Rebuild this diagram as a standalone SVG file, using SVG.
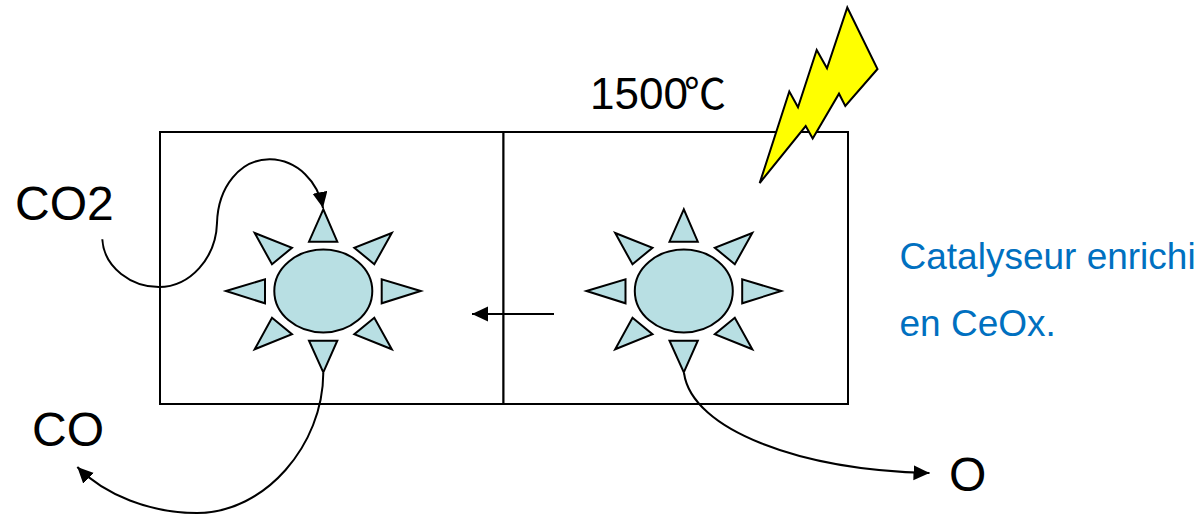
<svg xmlns="http://www.w3.org/2000/svg" width="1202" height="514" viewBox="0 0 1202 514">
<style>
.box{fill:#fff;stroke:#000;stroke-width:2}
.p{fill:#b8dfe3;stroke:#000;stroke-width:2;stroke-linejoin:miter}
.c{fill:none;stroke:#000;stroke-width:2}
text{font-family:"Liberation Sans","Noto Sans CJK SC",sans-serif;fill:#000;font-size:48px}
.t{font-size:44px}
.b{fill:#0070c0;font-size:37px}
</style>
<defs>
<marker id="a" markerUnits="userSpaceOnUse" markerWidth="18" markerHeight="16" refX="16" refY="7.500" orient="auto"><path d="M0 0L16 7.500L0 15Z" fill="#000"/></marker>
<g id="sun">
<polygon class="p" points="323.3,209.300 309,241.7 337.300,241.700"/>
<polygon class="p" points="254.700,233 292,247.7 272,264.3"/>
<polygon class="p" points="391.800,233 354.3,247.7 374.3,264.3"/>
<polygon class="p" points="226,291 265,279.3 265,303.3"/>
<polygon class="p" points="420.700,291 381.7,279.3 381.7,303.3"/>
<polygon class="p" points="254.700,349.300 292,334.3 272,317.7"/>
<polygon class="p" points="391.800,349.300 354.3,334.3 374.3,317.7"/>
<polygon class="p" points="323.3,372.300 309,340.7 337.3,340.7"/>
<ellipse class="p" cx="323.3" cy="291" rx="49" ry="41.5"/>
</g>
</defs>
<g id="box-left"><rect class="box" x="160" y="132" width="343.500" height="272"/></g>
<g id="box-right"><rect class="box" x="503.500" y="132" width="344.500" height="272"/></g>
<g id="sun-left"><use href="#sun"/></g>
<g id="sun-right"><use href="#sun" x="360.500"/></g>
<g id="bolt"><polygon points="847.3,7.500 877.500,69 845.3,106 839,93.700 812.7,138.500 805.7,126 759.700,183 789.3,91.500 798,107.300 816.7,50 827,68.300" fill="#ff0" stroke="#000" stroke-width="2"/></g>
<g id="connectors">
<path class="c" marker-end="url(#a)" d="M102.300 239.300C104 268 132 287 159 287C190 287 216 258 217 223C218 187 240 159 270 159.300C298 160 318 182 323 208"/>
<path class="c" marker-end="url(#a)" d="M323.300 373C323 445 265 513 197 513C150 513 105 495 77.300 467"/>
<path class="c" marker-end="url(#a)" d="M684 373C692 430 800 470 929.500 473"/>
<path class="c" marker-end="url(#a)" d="M554 314H472"/>
</g>
<g id="labels">
<text class="t" x="590" y="109">1500<tspan dx="-4" font-size="42" font-family="Noto Sans CJK SC">℃</tspan></text>
<text x="15" y="220">CO2</text>
<text x="32" y="445.500">CO</text>
<text x="949" y="490.500">O</text>
<text class="b" x="899.500" y="268.500">Catalyseur enrichi</text>
<text class="b" x="899.500" y="335.500">en CeOx.</text>
</g>
</svg>
